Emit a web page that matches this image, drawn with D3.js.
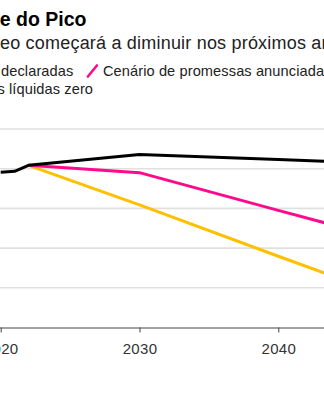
<!DOCTYPE html>
<html>
<head>
<meta charset="utf-8">
<script src="https://cdn.jsdelivr.net/npm/d3@7"></script>
<style>
  html, body { margin: 0; padding: 0; background: #fff; overflow: hidden; }
  svg { display: block; font-family: "Liberation Sans", Arial, Helvetica, sans-serif; }
</style>
</head>
<body>
<svg id="chart" width="324" height="400"></svg>
<script>
// ---- data ----
const years            = [2020, 2021, 2022, 2030, 2040, 2050];
const statedPolicies   = [78.2, 78.7, 81.7, 87.1, 84.6, 82.0];
const announcedPledges = [null, null, 81.7, 78.0, 59.0, 40.3];
const netZero          = [null, null, 81.7, 61.8, 35.9, 10.3];

const xTicks = [2020, 2030, 2040, 2050];
const yTicks = [0, 20, 40, 60, 80, 100];

const titleText    = "Diante do Pico";
const subtitleText = "A demanda de petróleo começará a diminuir nos próximos anos";

const seriesNames  = ["Cenário de políticas declaradas",
                      "Cenário de promessas anunciadas",
                      "Cenário de emissões líquidas zero"];
const seriesColors = ["#000000", "#ff0a8c", "#ffc000"];
const seriesValues = [statedPolicies, announcedPledges, netZero];

// ---- layout ----
const svg = d3.select("#chart");
const plot = { left: -68.7, right: 417.1, top: 129, bottom: 327.5 };

const x = d3.scaleLinear().domain([2015, 2050]).range([plot.left, plot.right]);
const y = d3.scaleLinear().domain([0, 100]).range([plot.bottom, plot.top]);

// place a text so that the substring `from` begins at targetX
function alignFrom(sel, full, from, targetX) {
  sel.attr("x", 0).text(full);
  const idx = full.indexOf(from);
  const off = sel.node().getStartPositionOfChar(idx).x;
  sel.attr("x", targetX - off);
}

// ---- header ----
const title = svg.append("text")
  .attr("y", 25.5)
  .attr("font-size", 19.5)
  .attr("font-weight", 700)
  .attr("fill", "#000");
alignFrom(title, titleText, "e do Pico", -0.3);

const subtitle = svg.append("text")
  .attr("y", 49.3)
  .attr("font-size", 18)
  .attr("letter-spacing", 0.2)
  .attr("fill", "#222");
alignFrom(subtitle, subtitleText, "eo começará", 0);

// ---- legend (flow layout, wraps to a second row) ----
const legend = svg.append("g");
const legendFont = 14.6, iconW = 9.5, iconGap = 6, itemGap = 14, rowH = 17.7, legendWidth = 500;
const items = seriesNames.map((name, i) => {
  const g = legend.append("g");
  g.append("line")
    .attr("x1", 0.5).attr("y1", 0.5)
    .attr("x2", iconW).attr("y2", -10.5)
    .attr("stroke", seriesColors[i])
    .attr("stroke-width", 2.6)
    .attr("stroke-linecap", "round");
  const t = g.append("text")
    .attr("x", iconW + iconGap)
    .attr("font-size", legendFont)
    .attr("letter-spacing", 0.1)
    .attr("fill", "#222")
    .text(name);
  return { g, t, w: iconW + iconGap + t.node().getComputedTextLength() };
});
let cx = 0, row = 0;
items.forEach(it => {
  if (cx > 0 && cx + it.w > legendWidth) { cx = 0; row++; }
  it.g.attr("transform", `translate(${cx},${row * rowH})`);
  cx += it.w + itemGap;
});
// shift the legend block so "declaradas" starts just inside the left edge
const declIdx = seriesNames[0].indexOf("declaradas");
const declOff = items[0].t.node().getStartPositionOfChar(declIdx).x;
legend.attr("transform", `translate(${1 - declOff},76)`);

// ---- grid ----
svg.append("g")
  .selectAll("line")
  .data(yTicks.filter(d => d > 0))
  .join("line")
  .attr("x1", plot.left).attr("x2", plot.right)
  .attr("y1", d => y(d)).attr("y2", d => y(d))
  .attr("stroke", "#e0e0e0")
  .attr("stroke-width", 1.6);

// ---- x axis ----
const xAxis = svg.append("g")
  .attr("transform", `translate(0,${plot.bottom})`)
  .call(d3.axisBottom(x).tickValues(xTicks).tickFormat(d3.format("d"))
        .tickSize(5).tickSizeOuter(0).tickPadding(10.5));
xAxis.select(".domain").attr("stroke", "#444").attr("stroke-width", 1);
xAxis.selectAll(".tick line").attr("stroke", "#444");
xAxis.selectAll(".tick text")
  .attr("font-size", 15)
  .attr("letter-spacing", 0.3)
  .attr("font-family", "Liberation Sans, Arial, sans-serif")
  .attr("fill", "#333");

// ---- lines ----
const line = d3.line()
  .defined(d => d.v != null)
  .x(d => x(d.year))
  .y(d => y(d.v));

[2, 1, 0].forEach(i => {
  const pts = years.map((yr, j) => ({ year: yr, v: seriesValues[i][j] }));
  svg.append("path")
    .datum(pts)
    .attr("d", line)
    .attr("fill", "none")
    .attr("stroke", seriesColors[i])
    .attr("stroke-width", 3)
    .attr("stroke-linejoin", "round");
});
</script>
</body>
</html>
